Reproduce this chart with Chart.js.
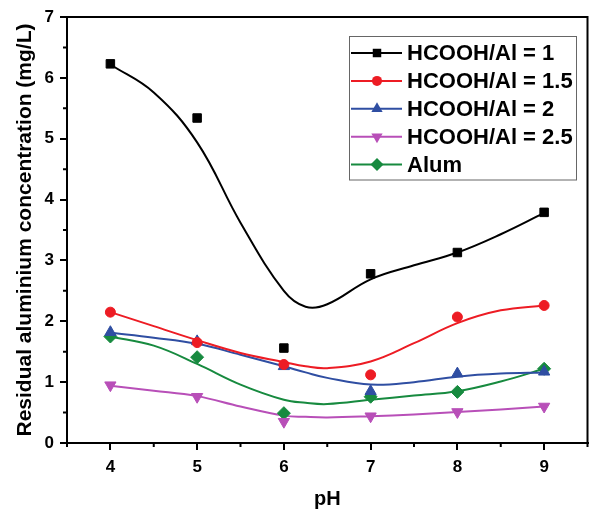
<!DOCTYPE html>
<html>
<head>
<meta charset="utf-8">
<script src="https://cdn.jsdelivr.net/npm/chart.js@4/dist/chart.umd.min.js"></script>
<style>
  body { margin: 0; background: #fff; }
  #wrap { width: 595px; height: 512px; }
</style>
</head>
<body>
<div id="wrap"><canvas id="chart" width="595" height="512"></canvas></div>
<script>
// measured points
let pH = [4, 5, 6, 7, 8, 9];
let ratio1 = [6.23, 5.34, 1.56, 2.78, 3.13, 3.79];
let ratio15 = [2.15, 1.65, 1.29, 1.12, 2.07, 2.26];
let ratio2 = [1.82, 1.67, 1.26, 0.85, 1.14, 1.17];
let ratio25 = [0.95, 0.76, 0.35, 0.44, 0.51, 0.6];
let alum = [1.75, 1.41, 0.49, 0.76, 0.84, 1.22];

// fitted curves
let fitPH = [4, 4.5, 5, 5.5, 6, 6.25, 6.5, 7, 7.5, 8, 8.5, 9];
let fit1 = [6.22, 5.76, 4.94, 3.62, 2.5, 2.24, 2.28, 2.69, 2.92, 3.13, 3.43, 3.78];
let fit15 = [2.15, 1.92, 1.69, 1.48, 1.33, 1.26, 1.23, 1.34, 1.64, 1.97, 2.18, 2.26];
let fit2 = [1.81, 1.73, 1.63, 1.45, 1.26, 1.16, 1.07, 0.96, 1.0, 1.09, 1.14, 1.16];
let fit25 = [0.94, 0.86, 0.77, 0.6, 0.45, 0.43, 0.42, 0.44, 0.47, 0.51, 0.55, 0.6];
let fitAlum = [1.75, 1.6, 1.3, 0.96, 0.71, 0.66, 0.64, 0.71, 0.78, 0.85, 1.01, 1.22];

let xTicks = [4, 5, 6, 7, 8, 9];

let series = [
  { label: "HCOOH/Al = 1", pts: ratio1, fit: fit1, color: "#000000", style: "rect", rot: 0, r: 6 },
  { label: "HCOOH/Al = 1.5", pts: ratio15, fit: fit15, color: "#ed1c24", style: "circle", rot: 0, r: 5 },
  { label: "HCOOH/Al = 2", pts: ratio2, fit: fit2, color: "#2f4ea2", style: "triangle", rot: 0, r: 6.5 },
  { label: "HCOOH/Al = 2.5", pts: ratio25, fit: fit25, color: "#b84fb8", style: "triangle", rot: 180, r: 6.5 },
  { label: "Alum", pts: alum, fit: fitAlum, color: "#178a3f", style: "rectRot", rot: 0, r: 6.5 },
];

const FONT = 'Arial, "Liberation Sans", sans-serif';

let datasets = [];
series.forEach((s) => {
  datasets.push({
    label: s.label,
    data: pH.map((x, i) => ({ x: x, y: s.pts[i] })),
    showLine: false,
    pointStyle: s.style,
    rotation: s.rot,
    pointRadius: s.r,
    backgroundColor: s.color,
    borderColor: s.color,
    borderWidth: 1,
  });
});
series.forEach((s) => {
  datasets.push({
    label: s.label + " fit",
    data: fitPH.map((x, i) => ({ x: x, y: s.fit[i] })),
    showLine: true,
    pointRadius: 0,
    borderColor: s.color,
    borderWidth: 2,
    tension: 0.4,
  });
});

function marker(ctx, s, x, y) {
  ctx.save();
  ctx.fillStyle = s.color;
  ctx.beginPath();
  let r = s.r;
  if (s.style == "rect") {
    let h = r * Math.SQRT1_2;
    ctx.rect(x - h, y - h, 2 * h, 2 * h);
  } else if (s.style == "circle") {
    ctx.arc(x, y, r, 0, Math.PI * 2);
  } else if (s.style == "triangle") {
    let d = s.rot == 180 ? -1 : 1;
    ctx.moveTo(x, y - d * r);
    ctx.lineTo(x + r * 0.866, y + d * r * 0.5);
    ctx.lineTo(x - r * 0.866, y + d * r * 0.5);
  } else {
    ctx.moveTo(x, y - r);
    ctx.lineTo(x + r, y);
    ctx.lineTo(x, y + r);
    ctx.lineTo(x - r, y);
  }
  ctx.closePath();
  ctx.fill();
  ctx.restore();
}

// frame, minor ticks and legend box
let decor = {
  id: "decor",
  afterDraw(chart) {
    let ctx = chart.ctx;
    let a = chart.chartArea;
    let xs = chart.scales.x;
    let ys = chart.scales.y;
    ctx.save();
    ctx.strokeStyle = "#000";
    ctx.lineWidth = 2;
    ctx.strokeRect(a.left, a.top, a.right - a.left, a.bottom - a.top);
    ctx.lineWidth = 2;
    ctx.beginPath();
    for (let v = 3.5; v <= 9.5; v += 1) {
      let px = xs.getPixelForValue(v);
      ctx.moveTo(px, a.bottom);
      ctx.lineTo(px, a.bottom + 4);
    }
    for (let v = 0.5; v < 7; v += 1) {
      let py = ys.getPixelForValue(v);
      ctx.moveTo(a.left, py);
      ctx.lineTo(a.left - 4, py);
    }
    ctx.stroke();

    // legend
    ctx.strokeStyle = "#666";
    ctx.lineWidth = 1;
    ctx.strokeRect(349.5, 36.5, 227, 143.5);
    ctx.font = "bold 22px " + FONT;
    ctx.textBaseline = "middle";
    ctx.textAlign = "left";
    series.forEach((s, i) => {
      let y = 53 + i * 27.9;
      ctx.strokeStyle = s.color;
      ctx.lineWidth = 2;
      ctx.beginPath();
      ctx.moveTo(351, y);
      ctx.lineTo(402, y);
      ctx.stroke();
      marker(ctx, s, 377, y);
      ctx.fillStyle = "#000";
      ctx.fillText(s.label, 407, y + 1);
    });
    ctx.restore();
  },
};

new Chart(document.getElementById("chart"), {
  type: "scatter",
  data: { datasets: datasets },
  options: {
    responsive: false,
    animation: false,
    layout: { padding: { top: 17, right: 2, left: 0, bottom: 0 } },
    plugins: { legend: { display: false }, tooltip: { enabled: false } },
    scales: {
      x: {
        type: "linear",
        min: 3.5,
        max: 9.5,
        afterBuildTicks: (scale) => {
          scale.ticks = xTicks.map((v) => ({ value: v }));
        },
        afterFit: (scale) => {
          scale.height = 69;
        },
        grid: { drawOnChartArea: false, tickLength: 7, color: "#000", lineWidth: 2 },
        border: { color: "#000", width: 2 },
        ticks: { color: "#000", padding: 7, font: { family: FONT, size: 17, weight: "bold" } },
        title: {
          display: true,
          text: "pH",
          color: "#000",
          padding: { top: 0, bottom: 1 },
          font: { family: FONT, size: 20, weight: "bold" },
        },
      },
      y: {
        min: 0,
        max: 7,
        afterFit: (scale) => {
          scale.width = 67;
        },
        grid: { drawOnChartArea: false, tickLength: 7, color: "#000", lineWidth: 2 },
        border: { color: "#000", width: 2 },
        ticks: { stepSize: 1, color: "#000", padding: 6, font: { family: FONT, size: 17, weight: "bold" } },
        title: {
          display: true,
          text: "Residual aluminium concentration (mg/L)",
          color: "#000",
          padding: { top: 13, bottom: 0 },
          font: { family: FONT, size: 21, weight: "bold" },
        },
      },
    },
  },
  plugins: [decor],
});
</script>
</body>
</html>
